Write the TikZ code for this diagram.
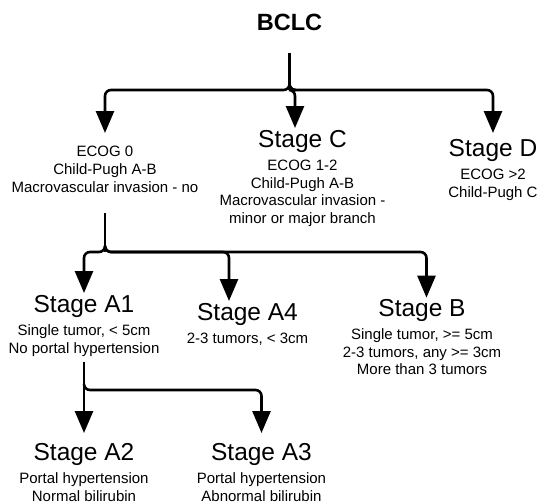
\documentclass[tikz,border=0pt]{standalone}
\usepackage{fontspec}
\setmainfont{Liberation Sans}
\usetikzlibrary{arrows.meta}

\begin{document}
\begin{tikzpicture}[x=1pt, y=-1pt,
  stagebox/.style={anchor=north, align=center, inner xsep=0pt, font=\fontsize{15}{17.8}\selectfont},
  link/.style={black, line width=2.6pt},
  linkarrow/.style={link, shorten >=-3pt, -{Triangle[width=18pt,length=22pt]}}
]

\useasboundingbox (0,0) rectangle (539,504);

% nodes (placed at the arrow tips, inner ysep = gap to the text)
{

\node[anchor=base, inner sep=0pt, font=\bfseries\fontsize{23.5}{27}\selectfont] (bclc) at (289.5,30) {BCLC};

\node[stagebox, inner ysep=16.1pt] (noinv) at (105,130)
{ECOG 0\\Child-Pugh A-B\\Macrovascular invasion - no};

\node[stagebox, inner ysep=2.2pt] (stageC) at (302.5,128)
{{\fontsize{24.5}{28}\selectfont Stage C}\\[5pt] ECOG 1-2\\Child-Pugh A-B\\Macrovascular invasion -\\minor or major branch};

\node[stagebox, inner ysep=9.2pt] (stageD) at (493,130)
{{\fontsize{24.5}{28}\selectfont Stage D}\\[5pt] ECOG >2\\Child-Pugh C};

\node[stagebox, inner ysep=5.2pt] (stageA1) at (84,290)
{{\fontsize{24.5}{28}\selectfont Stage A1}\\[5pt] Single tumor, < 5cm\\No portal hypertension};

\node[stagebox, inner ysep=5.2pt] (stageA4) at (247.5,298)
{{\fontsize{24.5}{28}\selectfont Stage A4}\\[5pt] 2-3 tumors, < 3cm};

\node[stagebox, inner ysep=1.5pt] (stageB) at (422,297.7)
{{\fontsize{24.5}{28}\selectfont Stage B}\\[5pt] Single tumor, >= 5cm\\2-3 tumors, any >= 3cm\\More than 3 tumors};

\node[stagebox, inner ysep=13.2pt] (stageA2) at (84,430)
{{\fontsize{24.5}{28}\selectfont Stage A2}\\[5pt] Portal hypertension\\Normal bilirubin};

\node[stagebox, inner ysep=13.2pt] (stageA3) at (261.5,430)
{{\fontsize{24.5}{28}\selectfont Stage A3}\\[5pt] Portal hypertension\\Abnormal bilirubin};
}

% first split
{
\coordinate (j1) at (289.5,90);
\draw[link] ([yshift=-23pt]bclc.south) -- (j1);

\draw[linkarrow, rounded corners=6pt] ([yshift=6pt]j1) -- (j1) -| (noinv.north);
\draw[linkarrow, rounded corners=6pt, shorten >=0pt] ([yshift=6pt]j1) -- (j1) -| ([xshift=-7.5pt]stageC.north);
\draw[linkarrow, rounded corners=6pt] ([yshift=6pt]j1) -- (j1) -| (stageD.north);
}

% second split
{
\coordinate (j2) at (105,252);
\draw[link] ([yshift=-4pt]noinv.south) -- (j2);

\draw[linkarrow, rounded corners=6pt] ([yshift=6pt]j2) -- (j2) -| (stageA1.north);
\draw[linkarrow, rounded corners=6pt] ([yshift=6pt]j2) -- (j2) -| ([xshift=-18.5pt]stageA4.north);
\draw[linkarrow, rounded corners=6pt, shorten >=0pt] ([yshift=6pt]j2) -- (j2) -| ([xshift=4.5pt]stageB.north);
}

% third split
{
\coordinate (j3) at (84,390);

\draw[linkarrow] (stageA1.south) -- (stageA2.north);
\draw[linkarrow, rounded corners=6pt] ([yshift=6pt]j3) -- (j3) -| (stageA3.north);
}

\end{tikzpicture}
\end{document}
